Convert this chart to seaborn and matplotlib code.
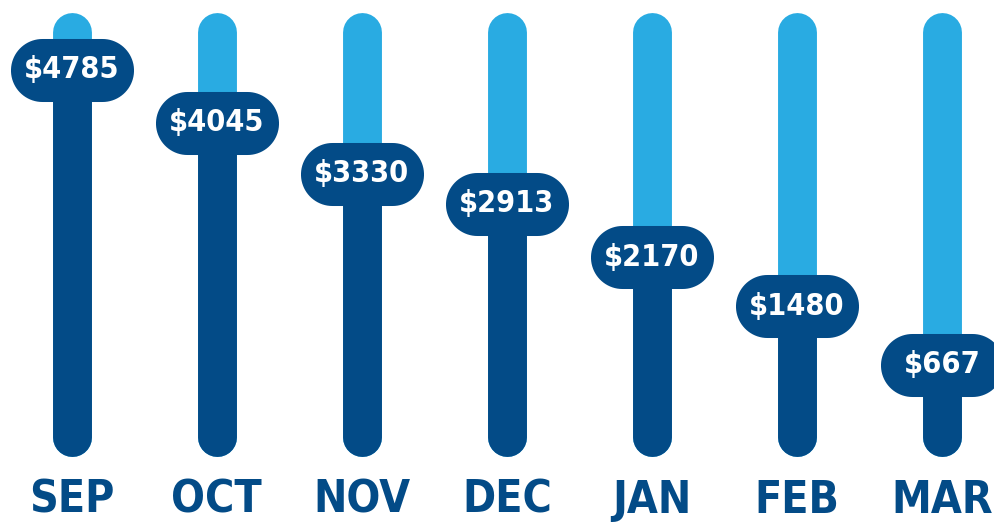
import numpy as np
import matplotlib.pyplot as plt
from matplotlib.path import Path
from matplotlib import font_manager
import seaborn as sns

# data
months = ['SEP', 'OCT', 'NOV', 'DEC', 'JAN', 'FEB', 'MAR']
amounts = [4785, 4045, 3330, 2913, 2170, 1480, 667]
labels = ['$' + str(a) for a in amounts]

dark = '#034b87'
light = '#29abe2'

sns.set_theme(style='white')
names = {f.name for f in font_manager.fontManager.ttflist}
font = 'Liberation Sans Narrow' if 'Liberation Sans Narrow' in names else 'DejaVu Sans'
plt.rcParams['font.family'] = [font, 'DejaVu Sans']

fig = plt.figure(figsize=(9.95, 5.25), dpi=100)
ax = fig.add_axes([0, 0, 1, 1])
x = np.arange(len(months))

# background track and filled part (rounded ends)
track_lo, track_hi = -340, 5320
ax.vlines(x, track_lo, track_hi, color=light, lw=28, capstyle='round', zorder=1)
ax.vlines(x, track_lo, amounts, color=dark, lw=28, capstyle='round', zorder=2)

# pill shaped marker for the value labels
t = np.linspace(-np.pi / 2, np.pi / 2, 40)
right = np.column_stack([30 + 31.5 * np.cos(t), 31.5 * np.sin(t)])
left = np.column_stack([-30 - 31.5 * np.cos(t), -31.5 * np.sin(t)])
pill = Path(np.vstack([right, left, right[:1]]), closed=True)

sns.scatterplot(x=x, y=amounts, marker=pill, s=7843, color=dark,
                linewidth=0, ax=ax, zorder=3)

for i, lab in enumerate(labels):
    ax.text(i, amounts[i], lab, ha='center', va='center', color='white',
            fontsize=22, fontweight='bold', fontstretch='condensed', zorder=4)

for i, m in enumerate(months):
    ax.text(i, 0.047, m, transform=ax.get_xaxis_transform(), ha='center',
            va='center', color=dark, fontsize=32, fontweight='bold',
            fontstretch='condensed')

ax.set_xlim(-0.493, 6.364)
ax.set_ylim(-1573, 5760)
ax.axis('off')

fig.savefig('out.png', dpi=100)
